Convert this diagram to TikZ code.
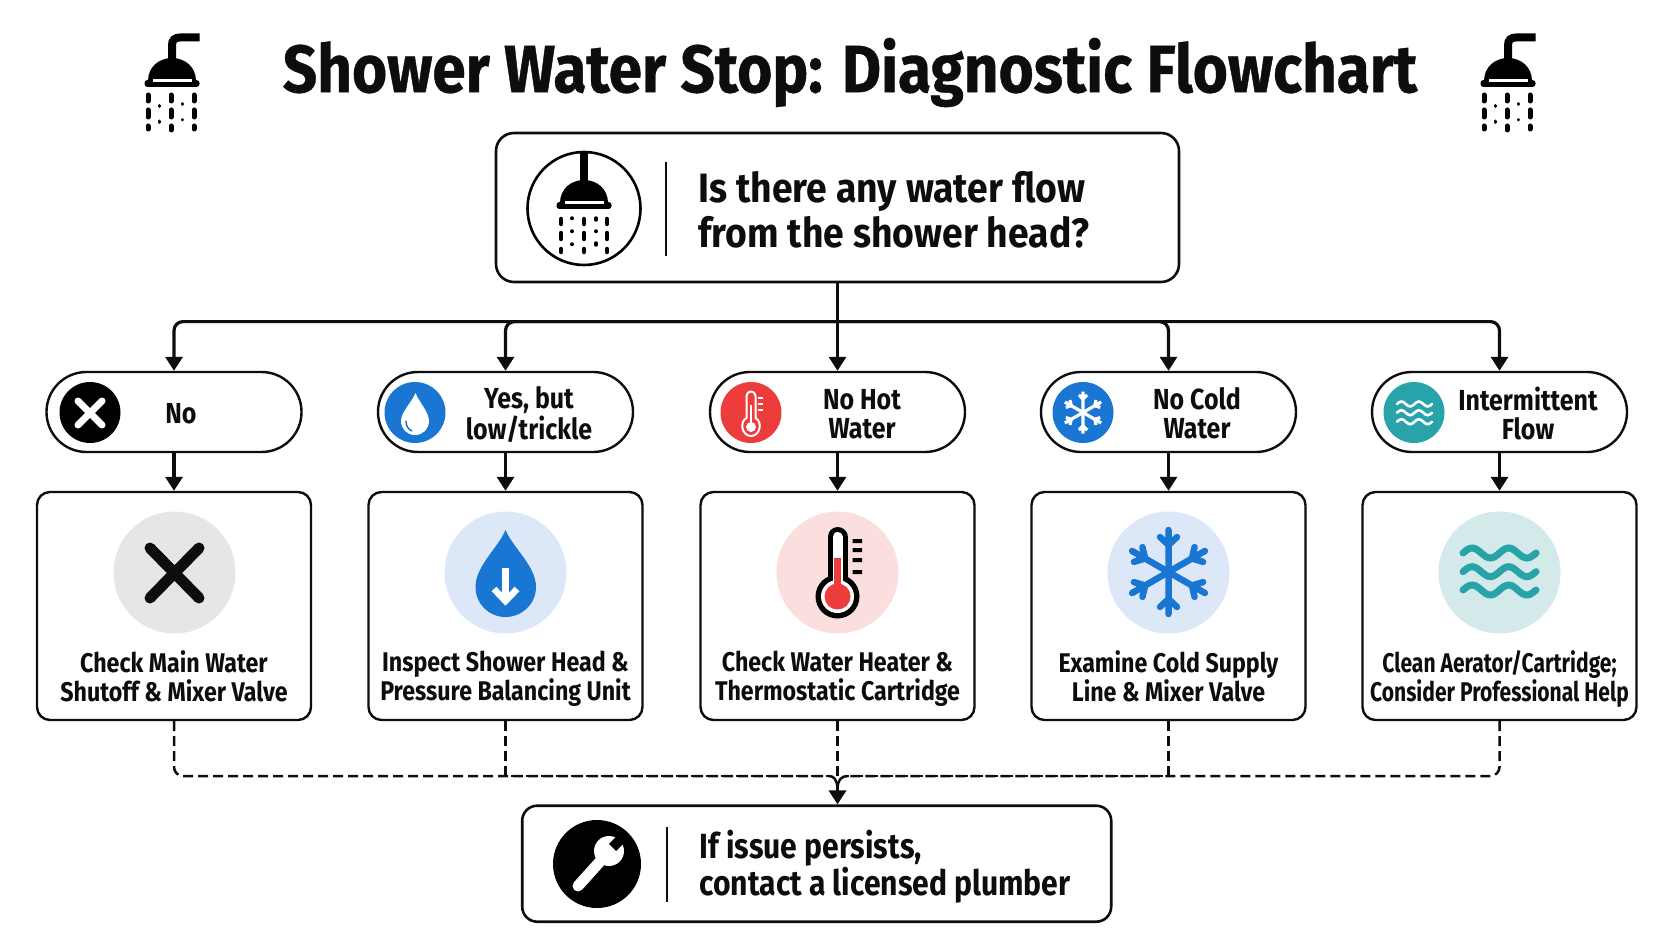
\documentclass[tikz,border=0pt]{standalone}
\usepackage{fontspec}
\usetikzlibrary{arrows.meta}
\setmainfont{Fira Sans}[FakeStretch=0.86]
\newfontfamily\titlefont{Fira Sans}[FakeStretch=0.9,FakeBold=0.6]
\newfontfamily\leadfont{Fira Sans}[FakeStretch=0.91]
\newfontfamily\narrowfont{Fira Sans}[FakeStretch=0.78]
\definecolor{inkblack}{RGB}{13, 13, 13}
\definecolor{dropblue}{RGB}{25, 118, 210}
\definecolor{paleblue}{RGB}{220, 232, 248}
\definecolor{hotred}{RGB}{236, 60, 60}
\definecolor{palered}{RGB}{251, 222, 222}
\definecolor{waveteal}{RGB}{40, 163, 170}
\definecolor{paleteal}{RGB}{212, 233, 234}
\definecolor{palegrey}{RGB}{230, 230, 230}
\newcommand{\ls}{\vphantom{lg}}
\tikzstyle{questionbox}=[draw=inkblack,line width=2.6pt,rounded corners=18pt,minimum width=683pt,minimum height=149pt]
\tikzstyle{fixbox}=[draw=inkblack,line width=2.6pt,rounded corners=15pt,minimum width=589pt,minimum height=116pt]
\tikzstyle{pillbox}=[draw=inkblack,line width=2.4pt,rounded corners=39.9pt,minimum width=255pt,minimum height=80pt]
\tikzstyle{stepbox}=[draw=inkblack,line width=2.4pt,rounded corners=13pt,minimum width=274pt,minimum height=228pt]
\tikzstyle{badge}=[circle,inner sep=0pt,minimum size=61pt]
\tikzstyle{bigbadge}=[circle,inner sep=0pt,minimum size=122pt]
\tikzstyle{leadtext}=[anchor=west,align=left,text=inkblack,font=\leadfont\fontsize{41}{45}\selectfont\bfseries]
\tikzstyle{pilltext}=[align=center,text=inkblack,font=\fontsize{29}{29}\selectfont\bfseries]
\tikzstyle{steptext}=[align=center,text=inkblack,font=\fontsize{27}{29}\selectfont\bfseries]
\tikzstyle{orientedarc}=[-{Triangle[length=14pt,width=17pt]},line width=3.2pt,draw=inkblack]
\tikzstyle{dasharc}=[line width=2.5pt,draw=inkblack,dash pattern=on 10pt off 5pt]
\tikzstyle{divider}=[line width=2pt,draw=inkblack]
\newcommand{\showerdome}[2]{
  \begin{scope}[shift={(#1,#2)}]
    \fill[black] (-24,-6) .. controls (-24,-20) and (-13,-29) .. (0,-29) .. controls (13,-29) and (24,-20) .. (24,-6) -- cycle;
    \fill[black,rounded corners=3pt] (-27.5,-7) rectangle (27.5,0);
    \fill[white] (-19.5,-7.8) rectangle (20,-5.2);
  \end{scope}
}
\newcommand{\showerpipe}[2]{
  \begin{scope}[shift={(#1,#2)}]
    \draw[black,line width=8pt] (0,-27) -- (0,-42) .. controls (0,-47) and (3,-49.5) .. (8,-49.5) -- (27.5,-49.5);
    \draw[black,line width=5pt,line cap=round] (-24,8) -- (-24,14) (-1,8) -- (-1,14) (22,8) -- (22,14);
    \draw[black,line width=5pt,line cap=round] (-24,23) -- (-24,30) (-1,23) -- (-1,30) (22,23) -- (22,30);
    \draw[black,line width=5pt,line cap=round] (-24,39) -- (-24,42) (-1,39) -- (-1,43) (22,39) -- (22,42);
    \draw[black,line width=3pt,line cap=round] (-13,18.5) -- (-13,19.5) (10,16.5) -- (10,17.5) (-13,34) -- (-13,35.5) (10,32.5) -- (10,33);
  \end{scope}
}
\newcommand{\snowarm}[4]{
  \begin{scope}[shift={(#1,#2)},rotate=#3,scale=#4]
    \draw (0,0) -- (0,-42) (0,-27) -- (-8.5,-35) (0,-27) -- (8.5,-35);
  \end{scope}
}
\newcommand{\snowflake}[3]{
  \snowarm{#1}{#2}{0}{#3}
  \snowarm{#1}{#2}{60}{#3}
  \snowarm{#1}{#2}{120}{#3}
  \snowarm{#1}{#2}{180}{#3}
  \snowarm{#1}{#2}{240}{#3}
  \snowarm{#1}{#2}{300}{#3}
}
\newcommand{\wavepath}[4]{(#1,#2) sin ++(#3/4,-#4) cos ++(#3/4,#4) sin ++(#3/4,#4) cos ++(#3/4,-#4) sin ++(#3/4,-#4) cos ++(#3/4,#4) sin ++(#3/4,#4) cos ++(#3/4,-#4)}

\begin{document}
\begin{tikzpicture}[x=1pt,y=-1pt]
\useasboundingbox (0,0) rectangle (1672,941);

\node[text=inkblack,font=\titlefont\fontsize{67}{67}\selectfont\bfseries] (title) at (850,72.5) {Shower Water Stop: Diagnostic Flowchart};

\showerdome{172}{87}
\showerpipe{172}{87}
\showerdome{1508}{87}
\showerpipe{1508}{87}

% question
\node[questionbox] (question) at (837.5,207.5) {};
\node[leadtext] (questiontext) at (695,213.5) {\ls Is there any water flow\\\ls from the shower head?};
\node[circle,draw=black,line width=2.6pt,inner sep=0pt,minimum size=113pt] (questionring) at (584,208.5) {};
\draw[divider] (665.6,162) -- (665.6,256);
\draw[black,line width=8pt] (584,153) -- (584,185);
\showerdome{584}{209}
\draw[black,line width=4.5pt,line cap=round] (561,219) -- (561,224) (584,219) -- (584,224) (607,219) -- (607,224);
\draw[black,line width=4.5pt,line cap=round] (561,233) -- (561,239) (584,233) -- (584,239) (607,233) -- (607,239);
\draw[black,line width=4.5pt,line cap=round] (561,249) -- (561,252) (584,249) -- (584,252) (607,249) -- (607,252);
\draw[black,line width=3.5pt,line cap=round] (572,218) -- (572,218.5) (596,218) -- (596,220) (572,231) -- (572,231.5) (596,231) -- (596,231.5) (572,244) -- (572,244.5) (596,243) -- (596,245);

% answers
\node[pillbox] (pillno) at (174,412) {};
\node[pillbox] (pilllow) at (505.5,412) {};
\node[pillbox] (pillhot) at (837.5,412) {};
\node[pillbox] (pillcold) at (1168.5,412) {};
\node[pillbox] (pillflow) at (1499.5,412) {};
\node[pilltext] (textno) at (181,415.5) {\ls No};
\node[pilltext] (textlow) at (529,416) {\ls Yes, but\\\ls low/trickle};
\node[pilltext] (texthot) at (862,416) {\ls No Hot\\\ls Water};
\node[pilltext] (textcold) at (1197,416) {\ls No Cold\\\ls Water};
\node[pilltext] (textflow) at (1528,416) {\ls Intermittent\\\ls Flow};

% checks
\node[stepbox] (stepno) at (174,606) {};
\node[stepbox] (steplow) at (505.5,606) {};
\node[stepbox] (stephot) at (837.5,606) {};
\node[stepbox] (stepcold) at (1168.5,606) {};
\node[stepbox] (stepflow) at (1499.5,606) {};
\node[steptext] (checkno) at (174,678.6) {\ls Check Main Water\\\ls Shutoff \& Mixer Valve};
\node[steptext] (checklow) at (505.5,678.6) {\ls Inspect Shower Head \&\\\ls Pressure Balancing Unit};
\node[steptext] (checkhot) at (837.5,678.6) {\ls Check Water Heater \&\\\ls Thermostatic Cartridge};
\node[steptext] (checkcold) at (1168.5,678.6) {\ls Examine Cold Supply\\\ls Line \& Mixer Valve};
\node[steptext,font=\narrowfont\fontsize{27}{29}\selectfont\bfseries] (checkflow) at (1499.5,678.6) {\ls Clean Aerator/Cartridge;\\\ls Consider Professional Help};

% small badges
\node[badge,fill=black] (badgeno) at (90,412.5) {};
\draw[white,line width=7pt,line cap=round] (78,401) -- (102,425) (102,401) -- (78,425);
\node[badge,fill=dropblue] (badgelow) at (415,412.5) {};
\fill[white] (415.5,393) .. controls (412,402) and (401,412) .. (401,421) .. controls (401,429) and (407,435) .. (415,435) .. controls (423,435) and (429,429) .. (429,421) .. controls (429,412) and (419,402) .. (415.5,393) -- cycle;
\draw[dropblue,line width=1.5pt] (406,421) .. controls (406,426) and (408,429) .. (412,431);
\node[badge,fill=hotred] (badgehot) at (751,412.5) {};
\draw[white,line width=2pt] (746.5,418) -- (746.5,396) .. controls (746.5,390) and (755.5,390) .. (755.5,396) -- (755.5,418) .. controls (763,422) and (760,436) .. (751,436) .. controls (742,436) and (739,422) .. (746.5,418) -- cycle;
\draw[white,line width=2pt] (758,398) -- (763,398) (758,404) -- (763,404) (758,410) -- (763,410);
\draw[white,line width=2pt] (751,405) -- (751,426);
\fill[white] (751,427) circle (5pt);
\node[badge,fill=dropblue] (badgecold) at (1083,412.5) {};
\begin{scope}[white,line width=3.2pt]
\snowflake{1083}{412.5}{0.5}
\end{scope}
\node[badge,fill=waveteal] (badgeflow) at (1414,412.5) {};
\draw[white,line width=2.6pt,line cap=round] \wavepath{1397}{404}{17.5}{2.5} \wavepath{1397}{412.7}{17.5}{2.5} \wavepath{1397}{421.7}{17.5}{2.5};

% big badges
\node[bigbadge,fill=palegrey] (bigno) at (174.5,572.5) {};
\draw[inkblack,line width=11pt,line cap=round] (150,548) -- (199,598) (199,548) -- (150,598);
\node[bigbadge,fill=paleblue] (biglow) at (505.5,572.5) {};
\fill[dropblue] (505.5,530) .. controls (498,548) and (475.5,566) .. (475.5,587) .. controls (475.5,604) and (489,617) .. (505.5,617) .. controls (522,617) and (536,604) .. (536,587) .. controls (536,566) and (513,548) .. (505.5,530) -- cycle;
\draw[white,line width=6.5pt] (505.5,568) -- (505.5,600);
\draw[white,line width=6.5pt] (494,589) -- (505.5,601) -- (517,589);
\node[bigbadge,fill=palered] (bighot) at (837.5,572.5) {};
\draw[black,line width=20pt,line cap=round] (837.5,537) -- (837.5,590);
\fill[black] (837.5,596.5) circle (22pt);
\draw[white,line width=10pt,line cap=round] (837.5,537) -- (837.5,590);
\fill[white] (837.5,596.5) circle (16.5pt);
\fill[hotred] (837.5,596.5) circle (13pt);
\fill[hotred] (833.8,558) rectangle (841.2,590);
\fill[black] (852.5,539) rectangle (862,543) (852.5,548) rectangle (862,552) (852.5,558) rectangle (862,562) (852.5,570) rectangle (862,574);
\node[bigbadge,fill=paleblue] (bigcold) at (1168.5,572.5) {};
\begin{scope}[dropblue,line width=6.5pt,line cap=round]
\snowflake{1168.5}{572}{1}
\end{scope}
\node[bigbadge,fill=paleteal] (bigflow) at (1499.5,572.5) {};
\draw[waveteal,line width=7pt,line cap=round] \wavepath{1463}{553}{36.5}{5} \wavepath{1463}{571.7}{36.5}{5} \wavepath{1463}{590}{36.5}{5};

% last resort
\node[fixbox] (fix) at (816.7,863.7) {};
\node[leadtext,font=\fontsize{35}{37}\selectfont\bfseries] (fixtext) at (696,867) {\ls If issue persists,\\\ls contact a licensed plumber};
\node[circle,fill=black,inner sep=0pt,minimum size=88pt] (fixbadge) at (597,864) {};
\draw[divider] (667.3,826.7) -- (667.3,901.7);
\draw[white,line width=11pt,line cap=round] (578,886) -- (605,856);
\fill[white] (609,851) circle (15pt);
\draw[black,line width=10pt] (612.5,847.5) -- (626,834);

\coordinate (busquestion) at (837.5,321.6);
\coordinate (busfix) at (837.5,776);
\coordinate (joinfix) at (837.5,788);
\coordinate (joinleft) at (829,776);
\coordinate (joinright) at (848,776);

\draw[line width=3.2pt,draw=inkblack] (question.south) -- (busquestion);
\draw[orientedarc,rounded corners=9pt] (busquestion) -| (pillno.north);
\draw[orientedarc,rounded corners=9pt] (busquestion) -| (pilllow.north);
\draw[orientedarc] (busquestion) -- (pillhot.north);
\draw[orientedarc,rounded corners=9pt] (busquestion) -| (pillcold.north);
\draw[orientedarc,rounded corners=9pt] (busquestion) -| (pillflow.north);

\draw[orientedarc] (pillno) -- (stepno);
\draw[orientedarc] (pilllow) -- (steplow);
\draw[orientedarc] (pillhot) -- (stephot);
\draw[orientedarc] (pillcold) -- (stepcold);
\draw[orientedarc] (pillflow) -- (stepflow);

\draw[dasharc,rounded corners=9pt] (stepno.south) |- (joinleft);
\draw[dasharc] (steplow.south) |- (joinleft);
\draw[dasharc] (stephot.south) -- (busfix);
\draw[dasharc] (stepcold.south) |- (joinright);
\draw[dasharc,rounded corners=9pt] (stepflow.south) |- (joinright);
\draw[line width=2.5pt,draw=inkblack] (joinleft) .. controls (834,776) and (837,780) .. (joinfix);
\draw[line width=2.5pt,draw=inkblack] (joinright) .. controls (841,776) and (838,780) .. (joinfix);
\draw[orientedarc] (joinfix) -- (joinfix |- fix.north);

\end{tikzpicture}
\end{document}
